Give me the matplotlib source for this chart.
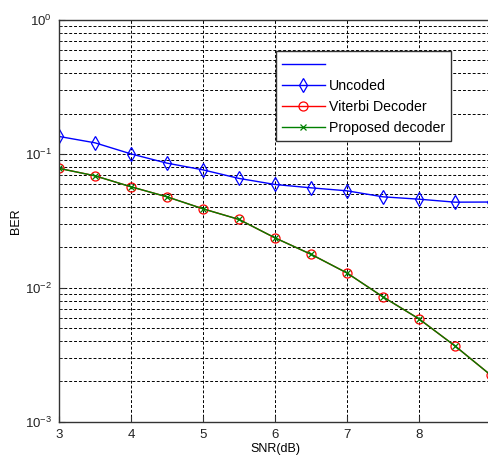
import matplotlib
matplotlib.use("Agg")
import matplotlib.pyplot as plt
from matplotlib.ticker import LogLocator, NullFormatter, FixedLocator

plt.rcParams['font.family'] = ['Liberation Sans', 'DejaVu Sans']
plt.rcParams['mathtext.fontset'] = 'custom'
plt.rcParams['mathtext.rm'] = 'Liberation Sans'
plt.rcParams['mathtext.it'] = 'Liberation Sans:italic'

snr = [3, 3.5, 4, 4.5, 5, 5.5, 6, 6.5, 7, 7.5, 8, 8.5, 9]
uncoded = [0.135, 0.121, 0.100, 0.0853, 0.076, 0.0656, 0.0591, 0.0558, 0.053, 0.0478, 0.0459, 0.0436, 0.0437]
viterbi = [0.078, 0.0686, 0.0568, 0.0478, 0.0389, 0.0324, 0.0236, 0.0178, 0.0129, 0.00855, 0.00586, 0.00368, 0.00222]
proposed = [0.078, 0.0686, 0.0568, 0.0478, 0.0389, 0.0324, 0.0236, 0.0178, 0.0129, 0.00855, 0.00586, 0.00368, 0.00222]
x_ticks = [3, 4, 5, 6, 7, 8, 9]

fig = plt.figure(figsize=(4.89, 4.55), dpi=100)
ax = fig.add_axes([59/489, 1 - 421.7/455, 432/489, (421.7 - 20)/455])

ax.plot([], [], color='b', lw=1, label=' ')
ax.plot(snr, uncoded, color='b', lw=1, marker='d', ms=7, mfc='none', mec='b', mew=0.9, label='Uncoded')
ax.plot(snr, viterbi, color='r', lw=1, marker='o', ms=6.5, mfc='none', mec='r', mew=0.9, label='Viterbi Decoder')
ax.plot(snr, proposed, color=(0, 0.5, 0), lw=1, marker='x', ms=4, mew=0.9, label='Proposed decoder')

ax.set_yscale('log')
ax.set_ylim(1e-3, 1)
ax.set_xlim(3, 9)
ax.xaxis.set_major_locator(FixedLocator(x_ticks))
ax.yaxis.set_major_locator(LogLocator(base=10, numticks=10))
ax.yaxis.set_minor_locator(LogLocator(base=10, subs=range(2, 10), numticks=20))
ax.yaxis.set_minor_formatter(NullFormatter())

ax.grid(True, which='major', axis='both', color='k', linestyle=(0, (3, 2)), lw=0.7)
ax.grid(True, which='minor', axis='y', color='k', linestyle=(0, (3, 2)), lw=0.7)

ax.tick_params(axis='both', which='both', direction='in', labelsize=9.5, colors='#333333', labelcolor='#222222')
ax.tick_params(axis='both', which='major', length=4, pad=5)
ax.tick_params(axis='y', which='minor', length=2)
for s in ax.spines.values():
    s.set_color('#333333')
    s.set_linewidth(1)
ax.spines['right'].set_visible(False)

ax.set_xlabel('SNR(dB)', fontsize=9, labelpad=2)
ax.set_ylabel('BER', fontsize=9, labelpad=2)

leg = ax.legend(loc='upper left', bbox_to_anchor=(0.502, 0.922), fontsize=10.2,
                frameon=True, fancybox=False, framealpha=1, edgecolor='#333333',
                handlelength=3.0, labelspacing=0.5, borderpad=0.45, handletextpad=0.3,
                borderaxespad=0)
leg.get_frame().set_linewidth(1)

fig.savefig('out.png', dpi=100)
